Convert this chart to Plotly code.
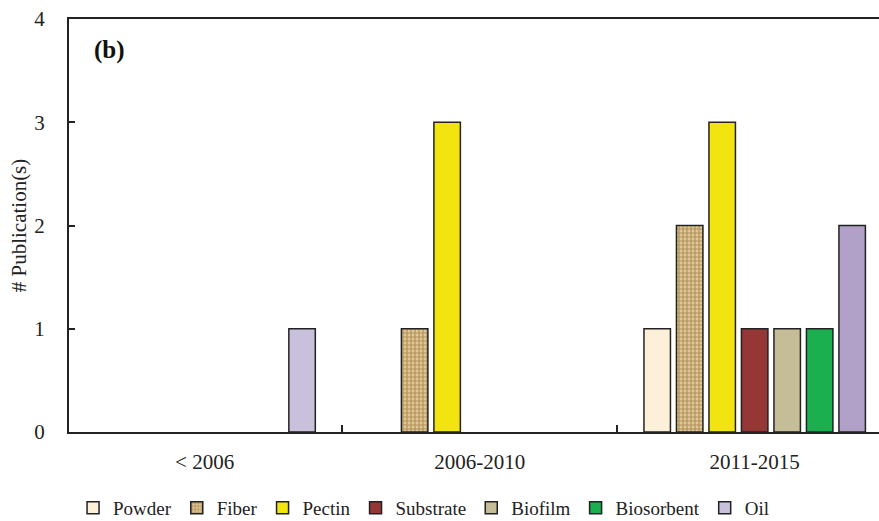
import plotly.graph_objects as go

categories = ["< 2006", "2006-2010", "2011-2015"]
series_names = ["Powder", "Fiber", "Pectin", "Substrate", "Biofilm", "Biosorbent", "Oil"]
powder = [0, 0, 1]
fiber = [0, 1, 2]
pectin = [0, 3, 3]
substrate = [0, 0, 1]
biofilm = [0, 0, 1]
biosorbent = [0, 0, 1]
oil = [1, 0, 2]
y_ticks = [0, 1, 2, 3, 4]

values = [powder, fiber, pectin, substrate, biofilm, biosorbent, oil]
colors = ["#FDF0D8", "#DCC08A", "#F2E50F", "#953735", "#C4BD97", "#1BAF4F",
          ["#C9C0DC", "#C9C0DC", "#B1A0C7"]]

FONT = "Liberation Serif, Times New Roman, serif"
fig = go.Figure()
for name, vals, col in zip(series_names, values, colors):
    marker = dict(color=col, line=dict(color="#222222", width=1.5))
    if name == "Fiber":
        marker["pattern"] = dict(shape="+", fgcolor="#7A5A28", bgcolor="#E2C893",
                                 size=4, solidity=0.5, fillmode="overlay")
    # zero-height bars are not drawn (no outline on the baseline)
    fig.add_trace(go.Bar(x=categories, y=[v if v else None for v in vals],
                         name=name, marker=marker))

fig.update_layout(
    width=879, height=521,
    margin=dict(l=69, r=0, t=19, b=89, autoexpand=False),
    plot_bgcolor="white", paper_bgcolor="white",
    barmode="group", bargap=0.173, bargroupgap=0.185,
    font=dict(family=FONT, size=21, color="#222222"),
    showlegend=True,
    legend=dict(orientation="h", x=0.005, xanchor="left", y=-0.184, yanchor="middle",
                font=dict(size=19), itemwidth=30, tracegroupgap=0),
    xaxis=dict(range=[-0.493, 2.452], showline=True, linecolor="#222222", linewidth=2,
               mirror=True, ticks="inside", tickson="boundaries", ticklen=7,
               tickcolor="#222222", tickwidth=1.5, showgrid=False, automargin=False,
               tickfont=dict(size=21), ticklabelstandoff=10),
    yaxis=dict(range=[0, 4], tickvals=y_ticks, showline=True, linecolor="#222222",
               linewidth=2, ticks="inside", ticklen=6, tickcolor="#222222",
               tickwidth=1.5, showgrid=False, zeroline=False, automargin=False,
               title=dict(text="# Publication(s)", font=dict(size=21), standoff=2),
               tickfont=dict(size=21), ticklabelstandoff=18),
    annotations=[dict(text="<b>(b)</b>", xref="paper", yref="paper", x=0.028, y=0.925,
                      xanchor="left", yanchor="middle", showarrow=False,
                      font=dict(size=25, family=FONT, color="#111111"))],
)
fig.write_html("out.html", post_script="document.body.style.margin='0';",
               config={"displayModeBar": False})
